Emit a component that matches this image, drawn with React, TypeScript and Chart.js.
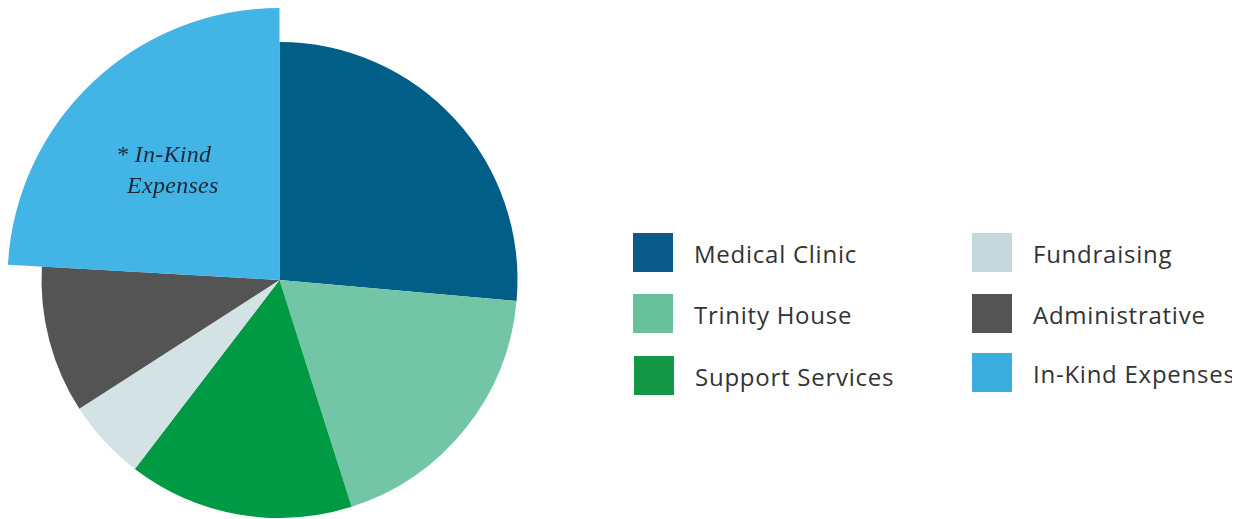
import React, { useEffect, useRef } from "react";
import { Chart, registerables } from "chart.js";

Chart.register(...registerables);

// ---- data ----
const categories = [
  "Medical Clinic",
  "Trinity House",
  "Support Services",
  "Fundraising",
  "Administrative",
  "In-Kind Expenses",
];
const sharePercent = [26.4, 18.7, 15.3, 5.5, 10.0, 24.1];
const calloutLines = ["* In-Kind", "Expenses"];
const highlightIndex = 5;

// ---- styles ----
const sliceColors = ["#005E87", "#72C6A5", "#009A44", "#D3E3E5", "#545454", "#42B4E6"];
const legendColors = ["#0B5A8A", "#67C29B", "#139646", "#C5D8DB", "#555555", "#3AAEDC"];
const BASE_RADIUS = 238;
const HIGHLIGHT_RADIUS = 272;

// legend slot layout (left, top of swatch) relative to wrapper
const legendSlots = [
  [625, 225],
  [625, 286],
  [626, 348],
  [964, 225],
  [964, 286],
  [964, 345],
];

const slicePlugin = {
  id: "sliceExtras",
  afterDatasetUpdate(chart: any) {
    const arc: any = chart.getDatasetMeta(0).data[highlightIndex];
    if (arc) arc.outerRadius = HIGHLIGHT_RADIUS;
  },
  afterDatasetsDraw(chart: any) {
    const arc: any = chart.getDatasetMeta(0).data[highlightIndex];
    if (!arc) return;
    const ctx = chart.ctx;
    ctx.save();
    ctx.font = 'italic 24px "Liberation Serif"';
    try {
      (ctx as any).letterSpacing = "0.3px";
    } catch (e) {}
    ctx.fillStyle = "#1f2733";
    ctx.textAlign = "left";
    ctx.textBaseline = "alphabetic";
    ctx.fillText(calloutLines[0], arc.x - 163.5, arc.y - 117.7);
    ctx.fillText(calloutLines[1], arc.x - 152.5, arc.y - 86.7);
    ctx.restore();
  },
};

export default function App() {
  const canvasRef = useRef<HTMLCanvasElement>(null);

  useEffect(() => {
    if (!canvasRef.current) return;
    const chart = new Chart(canvasRef.current, {
      type: "pie",
      data: {
        labels: categories,
        datasets: [
          {
            data: sharePercent,
            backgroundColor: sliceColors,
            borderWidth: 0,
            radius: BASE_RADIUS,
            clip: false,
          } as any,
        ],
      },
      options: {
        responsive: false,
        animation: false,
        events: [],
        layout: { padding: 0 },
        plugins: {
          legend: { display: false },
          tooltip: { enabled: false },
          title: { display: false },
        },
      },
      plugins: [slicePlugin],
    });
    return () => chart.destroy();
  }, []);

  return (
    <div style={{ position: "relative", width: 1224, height: 511, fontFamily: '"Open Sans", sans-serif' }}>
      <div style={{ position: "absolute", left: 0, top: 0, width: 543, height: 511, overflow: "hidden" }}>
        <canvas
          ref={canvasRef}
          width={543}
          height={544}
          style={{ position: "absolute", left: 0, top: 0, width: 543, height: 544, display: "block" }}
        />
      </div>
      {categories.map((name, i) => (
        <div
          key={name}
          style={{
            position: "absolute",
            left: legendSlots[i][0],
            top: legendSlots[i][1],
            height: 39,
            display: "flex",
            alignItems: "center",
            whiteSpace: "nowrap",
          }}
        >
          <div style={{ width: 40, height: 39, background: legendColors[i] }} />
          <span
            style={{
              marginLeft: 21,
              fontSize: 24,
              letterSpacing: "0.75px",
              color: "#333333",
              lineHeight: "39px",
              position: "relative",
              top: 1,
            }}
          >
            {name}
          </span>
        </div>
      ))}
    </div>
  );
}
